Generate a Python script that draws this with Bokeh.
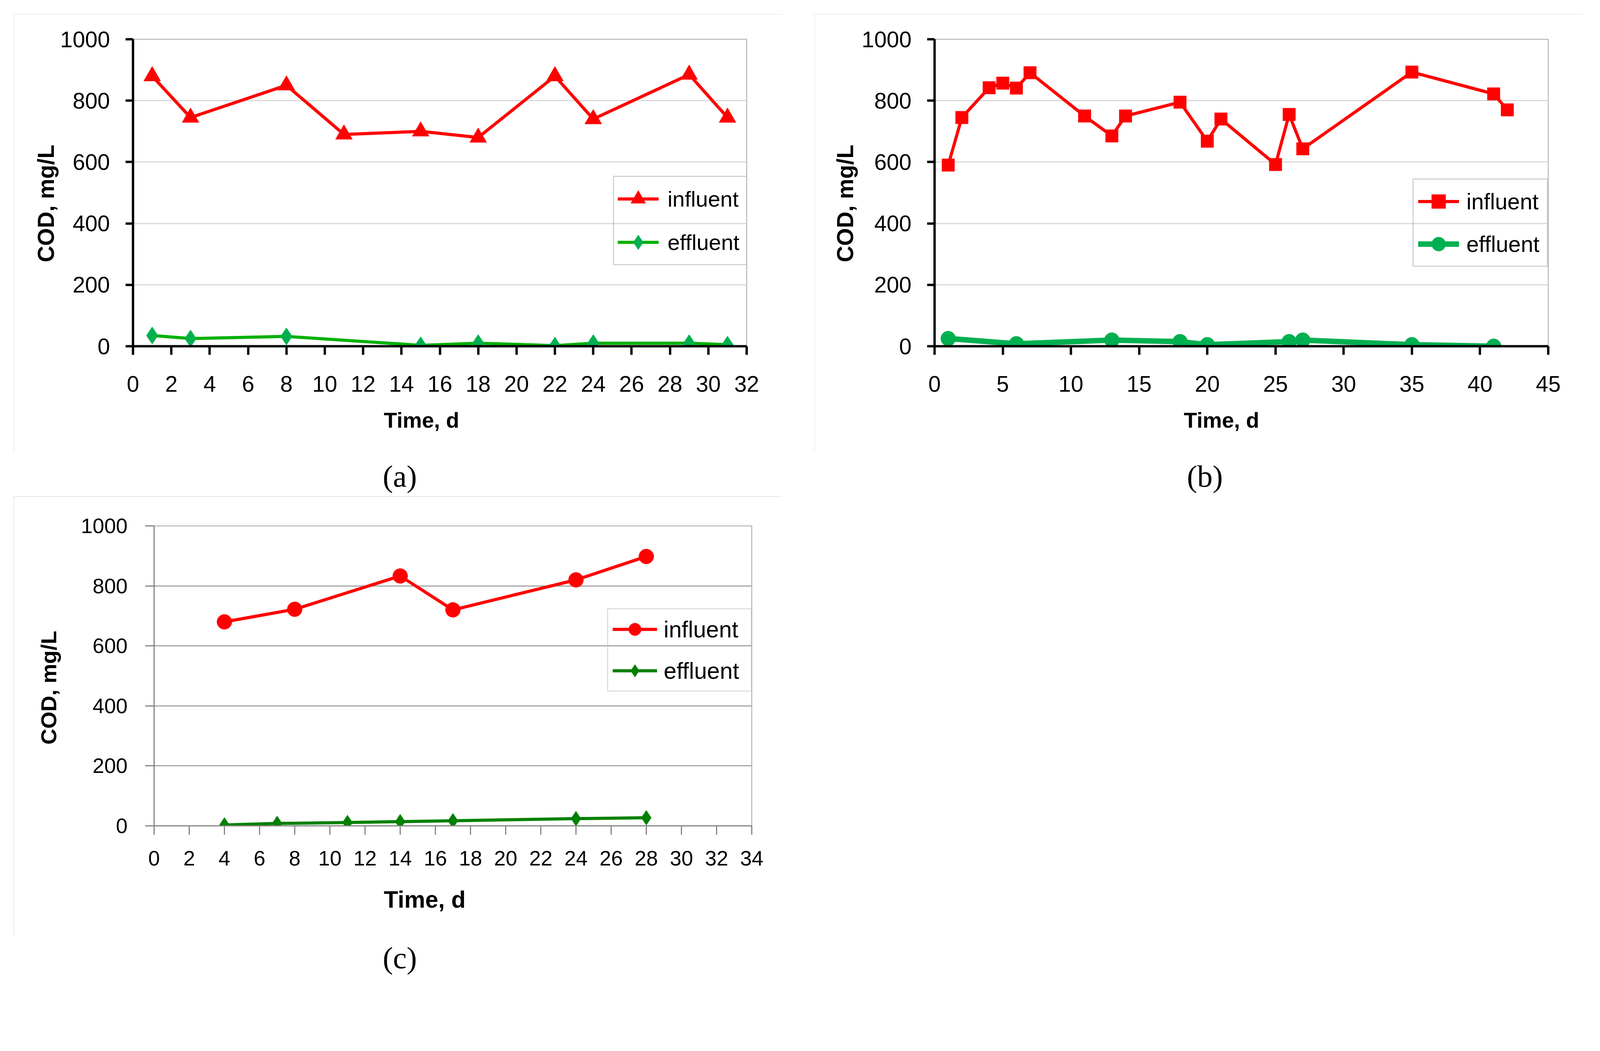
from bokeh.plotting import figure
from bokeh.models import FixedTicker, Legend, LegendItem, Range1d, Div, Spacer, Title
from bokeh.layouts import row, column
from bokeh.embed import file_html
from bokeh.resources import INLINE

# ---------------- data ----------------
a_inf_day = [1, 3, 8, 11, 15, 18, 22, 24, 29, 31]
a_inf_cod = [880, 745, 850, 690, 700, 680, 880, 740, 885, 745]
a_eff_day = [1, 3, 8, 15, 18, 22, 24, 29, 31]
a_eff_cod = [35, 25, 32, 3, 10, 2, 10, 10, 5]

b_inf_day = [1, 2, 4, 5, 6, 7, 11, 13, 14, 18, 20, 21, 25, 26, 27, 35, 41, 42]
b_inf_cod = [590, 745, 842, 857, 841, 891, 750, 685, 750, 795, 668, 740, 592, 755, 643, 893, 822, 770]
b_eff_day = [1, 6, 13, 18, 20, 26, 27, 35, 41]
b_eff_cod = [25, 8, 20, 15, 5, 15, 20, 5, 0]

c_inf_day = [4, 8, 14, 17, 24, 28]
c_inf_cod = [680, 722, 833, 720, 820, 898]
c_eff_day = [4, 7, 11, 14, 17, 24, 28]
c_eff_cod = [3, 8, 11, 14, 17, 24, 27]

a_xticks = list(range(0, 33, 2))
b_xticks = list(range(0, 46, 5))
c_xticks = list(range(0, 35, 2))
y_ticks = [0, 200, 400, 600, 800, 1000]

x_title = "Time, d"
y_title = "COD, mg/L"
labels = ["influent", "effluent"]
captions = ["(a)", "(b)", "(c)"]

S = 0.94  # page scale


def s(v):
    return max(0, int(round(v * S)))


def px(v):
    return f"{v * S:.1f}px"


FONT = "Liberation Sans"
CAP_FONT = "Liberation Serif"


def panel(cfg):
    p = figure(width=s(cfg["W"]), height=s(cfg["H"]),
               x_range=Range1d(0, cfg["xmax"]), y_range=Range1d(0, 1000),
               output_backend="svg", toolbar_location=None,
               min_border_left=s(cfg["bl"]), min_border_right=s(cfg["br"]),
               min_border_top=s(cfg["bt"]), min_border_bottom=s(cfg["bb"]),
               styles={"outline": f"{px(4)} solid {cfg['gcol']}",
                       "outline-offset": f"-{px(4)}"})
    p.background_fill_color = "white"
    p.border_fill_color = "white"
    p.outline_line_color = "#a6a6a6"
    p.outline_line_width = s(2)
    p.xgrid.visible = False
    p.ygrid.grid_line_color = cfg["grid"]
    p.ygrid.grid_line_width = s(3)
    p.xaxis.ticker = FixedTicker(ticks=cfg["xticks"])
    p.yaxis.ticker = FixedTicker(ticks=y_ticks)
    for ax in (p.xaxis, p.yaxis):
        ax.axis_line_color = cfg["axis"]
        ax.axis_line_width = s(cfg["axw"])
        ax.major_tick_line_color = cfg["axis"]
        ax.major_tick_line_width = s(cfg["axw"])
        ax.major_tick_in = 0
        ax.minor_tick_in = 0
        ax.minor_tick_out = 0
        ax.major_label_text_font = FONT
        ax.major_label_text_font_size = px(cfg["fs"])
        ax.major_label_text_color = "black"
    p.xaxis.major_tick_out = s(cfg["xtick_out"])
    p.yaxis.major_tick_out = s(cfg["ytick_out"])
    p.xaxis.major_label_standoff = s(cfg["xstand"])
    p.yaxis.major_label_standoff = s(cfg["ystand"])

    # axis titles (placed as side titles so that they can be offset along the axis)
    p.add_layout(Title(text=x_title, align="left", offset=s(cfg["xt_off"]),
                       standoff=s(cfg["xt_st"]), vertical_align="top",
                       text_font=FONT, text_font_size=px(cfg["xfs"]),
                       text_font_style="bold", text_color="black"), "below")
    p.add_layout(Title(text=y_title, align="left", offset=s(cfg["yt_off"]),
                       standoff=s(cfg["yt_st"]), vertical_align="bottom",
                       text_font=FONT, text_font_size=px(cfg["yfs"]),
                       text_font_style="bold", text_color="black"), "left")

    l1 = p.line(cfg["inf_x"], cfg["inf_y"], line_color="#FF0000", line_width=s(cfg["lw_inf"]))
    s1 = p.scatter(cfg["inf_x"], cfg["inf_y"], marker=cfg["m_inf"], size=s(cfg["sz_inf"]),
                   fill_color="#FF0000", line_color="#FF0000")
    l2 = p.line(cfg["eff_x"], cfg["eff_y"], line_color=cfg["eff_line"], line_width=s(cfg["lw_eff"]))
    s2 = p.scatter(cfg["eff_x"], cfg["eff_y"], marker=cfg["m_eff"], size=s(cfg["sz_eff"]),
                   fill_color=cfg["eff_mark"], line_color=cfg["eff_mark"])

    lx, ly = cfg["lg_loc"]
    lg = Legend(items=[LegendItem(label=labels[0], renderers=[l1, s1]),
                       LegendItem(label=labels[1], renderers=[l2, s2])],
                location=(s(lx), s(ly)), orientation="vertical")
    lg.margin = 0
    lg.padding = s(cfg["lg_pad"])
    lg.spacing = s(cfg["lg_sp"])
    lg.glyph_height = s(cfg["lg_gh"])
    lg.label_height = s(cfg["lg_gh"])
    lg.glyph_width = s(cfg["lg_gw"])
    lg.label_width = s(cfg["lg_lw"])
    lg.label_standoff = s(cfg["lg_ls"])
    lg.label_text_font = FONT
    lg.label_text_font_size = px(cfg["lg_fs"])
    lg.label_text_color = "black"
    lg.border_line_color = cfg["lg_border"]
    lg.border_line_width = s(3)
    lg.background_fill_alpha = 0
    p.add_layout(lg)
    return p


def caption(text, w, h, lh):
    return Div(text=text, width=s(w), height=s(h),
               styles={"font-family": CAP_FONT, "font-size": px(84), "text-align": "center",
                       "line-height": px(lh), "color": "black"})


common_ab = dict(H=1193, bb=288, br=97, grid="#d9d9d9",
                 axis="black", axw=6, fs=61, xtick_out=23, ytick_out=20,
                 xstand=57, ystand=43, gcol="#d4d4d4", lw_inf=8, lg_border="#a6a6a6",
                 yfs=62, xfs=59, xt_st=84)

pa = panel(dict(common_ab, W=2093, xmax=32, xticks=a_xticks, bl=324, bt=68,
                xt_off=683, yt_off=229, yt_st=4,
                inf_x=a_inf_day, inf_y=a_inf_cod, eff_x=a_eff_day, eff_y=a_eff_cod,
                m_inf="triangle", sz_inf=46, m_eff="diamond", sz_eff=47,
                eff_line="#00B000", eff_mark="#00B050", lw_eff=8,
                lg_loc=(1307, 220), lg_pad=10, lg_sp=18, lg_gh=100, lg_gw=112, lg_ls=24,
                lg_lw=209, lg_fs=60))

pb = panel(dict(common_ab, W=2095, xmax=45, xticks=b_xticks, bl=327, bt=65,
                xt_off=679, yt_off=229, yt_st=16,
                inf_x=b_inf_day, inf_y=b_inf_cod, eff_x=b_eff_day, eff_y=b_eff_cod,
                m_inf="square", sz_inf=34, m_eff="circle", sz_eff=40,
                eff_line="#00B050", eff_mark="#00B050", lw_eff=15,
                lg_loc=(1302, 216), lg_pad=12, lg_sp=21, lg_gh=95, lg_gw=112, lg_ls=20,
                lg_lw=207, lg_fs=61))

pc = panel(dict(W=2093, H=1196, bt=80, bb=299, bl=382, br=83,
                grid="#a6a6a6", axis="#868686", axw=3, fs=57, xtick_out=24, ytick_out=24,
                xstand=44, ystand=48, gcol="#c4c4c4", lw_inf=8, lg_border="#bfbfbf",
                yfs=60, xfs=64, xt_st=108, yt_st=104, xt_off=626, yt_off=221,
                xmax=34, xticks=c_xticks,
                inf_x=c_inf_day, inf_y=c_inf_cod, eff_x=c_eff_day, eff_y=c_eff_cod,
                m_inf="circle", sz_inf=40, m_eff="diamond", sz_eff=40,
                eff_line="#008000", eff_mark="#008000", lw_eff=8,
                lg_loc=(1234, 365), lg_pad=12, lg_sp=28, lg_gh=85, lg_gw=121, lg_ls=18,
                lg_lw=226, lg_fs=63))

cap_a = caption(captions[0], 2093, 111, 123)
cap_b = caption(captions[1], 2095, 111, 123)
cap_c = caption(captions[2], 2093, 120, 113)

layout = column(
    Spacer(height=s(38)),
    row(Spacer(width=s(37)), pa, Spacer(width=s(88)), pb),
    row(Spacer(width=s(37)), cap_a, Spacer(width=s(88)), cap_b),
    row(Spacer(width=s(37)), pc),
    row(Spacer(width=s(37)), cap_c),
)
open("out.html", "w").write(file_html(layout, INLINE))
